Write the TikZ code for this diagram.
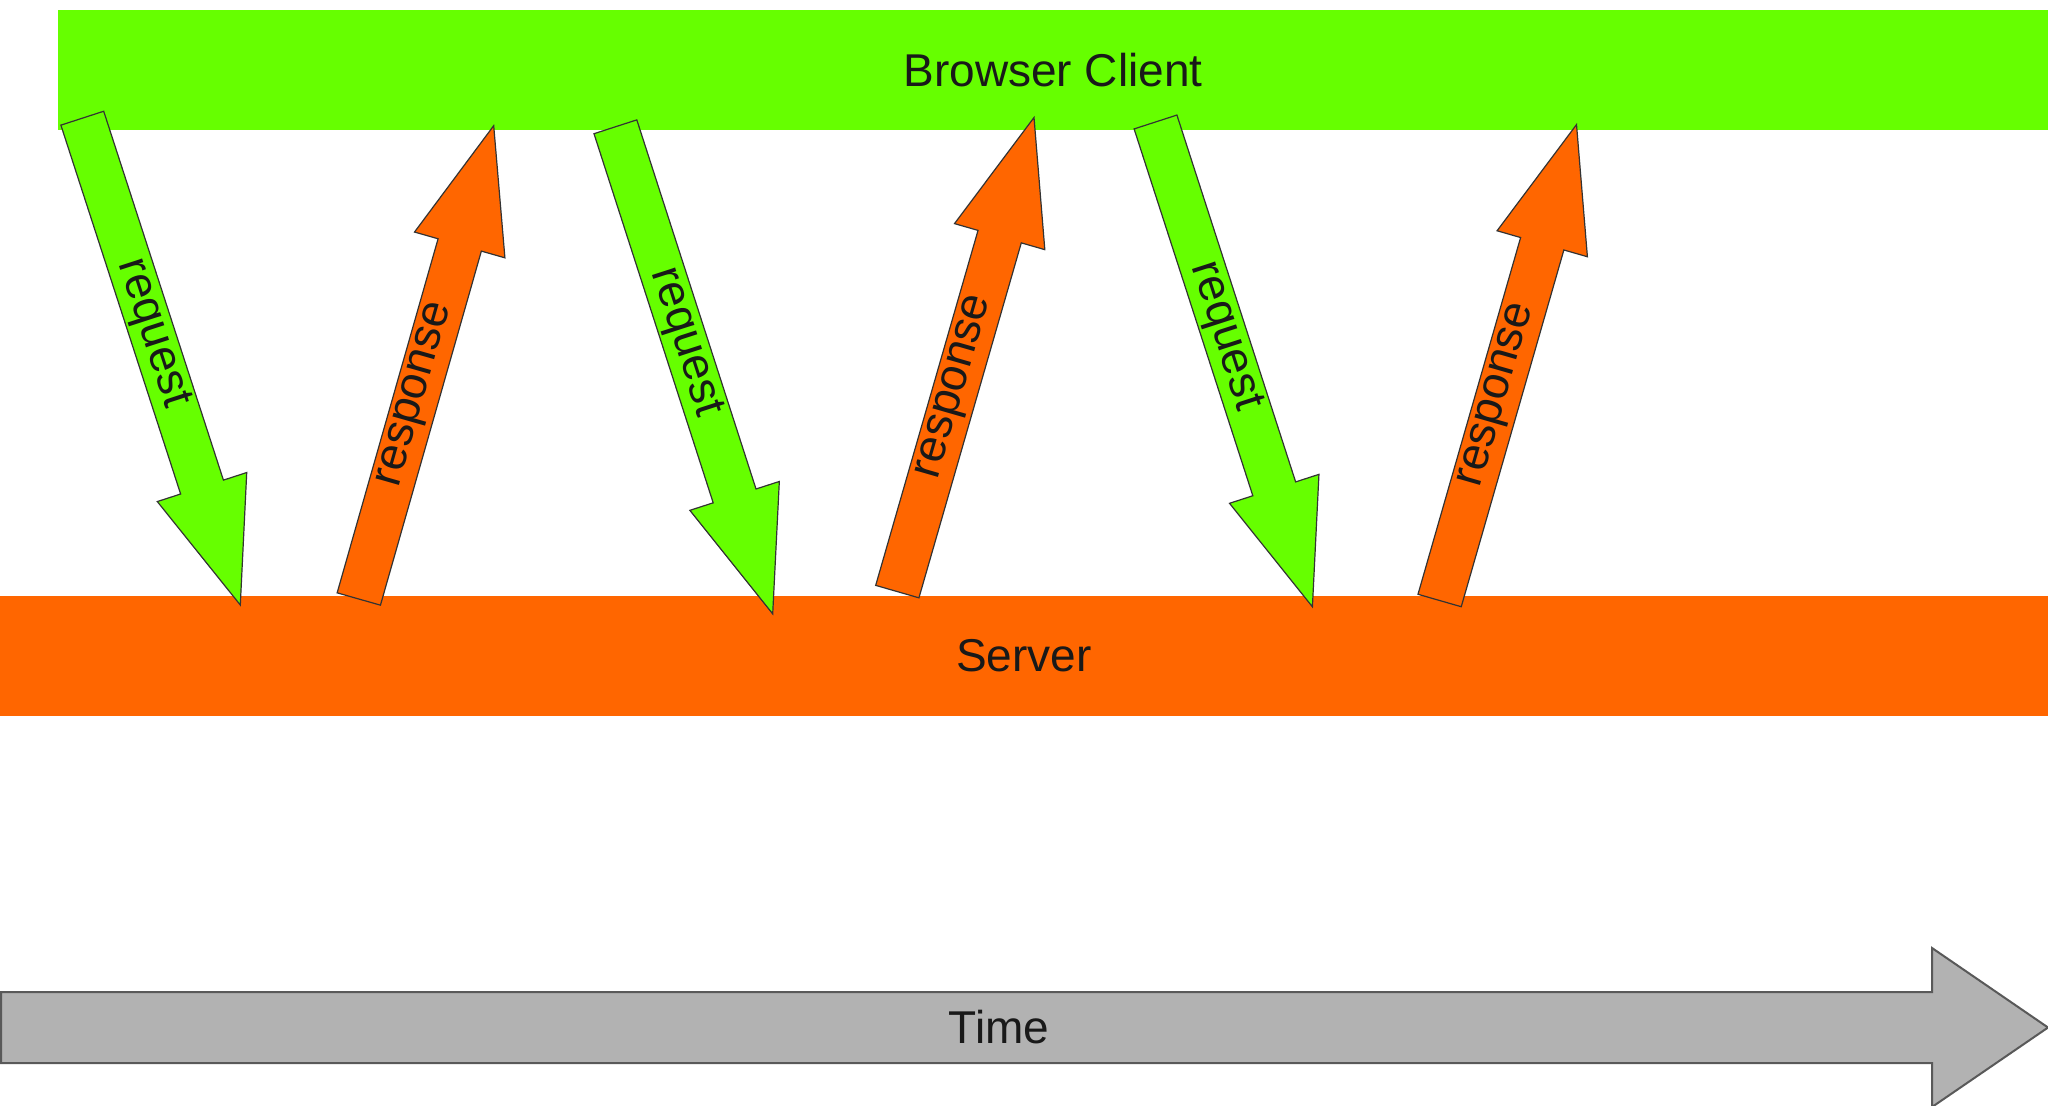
\documentclass[tikz,border=0pt]{standalone}
\usepackage{fontspec}
\setmainfont{Liberation Sans}
\usetikzlibrary{calc}
\definecolor{cgreen}{RGB}{102,255,0}
\definecolor{corange}{RGB}{255,102,0}
\definecolor{cgray}{RGB}{178,178,178}
\tikzset{
  blockarrow/.style={draw=black!80, line width=0.6pt, line join=miter},
  lbl/.style={font=\fontsize{23}{27}\selectfont, text=black!90, inner sep=0pt},
  bar/.style={rectangle, inner sep=0pt, outer sep=0pt, draw=none, anchor=north west,
    font=\fontsize{23}{27}\selectfont, text=black!90},
  timearrow/.style={draw=black!65, line width=1pt, fill=cgray, line join=miter}
}
\newcommand\fatarrow[5]{%
  \coordinate (#1-hb) at ($(#2)!62pt!(#1)$);
  \draw[blockarrow, fill=#3]
    ($(#1)!11.25pt!90:(#2)$) -- ($(#1-hb)!11.25pt!90:(#2)$) --
    ($(#1-hb)!23.5pt!90:(#2)$) -- (#2) --
    ($(#1-hb)!23.5pt!-90:(#2)$) -- ($(#1-hb)!11.25pt!-90:(#2)$) --
    ($(#1)!11.25pt!-90:(#2)$) -- cycle;
  \path (#1) -- (#2) node[pos=#5, sloped, lbl] (#1-lbl) {#4};
}
\begin{document}
\begin{tikzpicture}[x=0.5pt, y=0.5pt]
\useasboundingbox (0,0) rectangle (2048,-1106);
\fill[white] (0,0) rectangle (2048,-1106);
% bars
\node[bar, fill=cgreen, minimum width=995pt, minimum height=60pt] (client) at (58,-10) {Browser Client};
\node[bar, fill=corange, minimum width=1024pt, minimum height=60pt] (server) at (0,-596) {Server};
% arrow end points
\coordinate (r1t) at (82.3,-118.2);  \coordinate (r1h) at (240.3,-605);
\coordinate (s1t) at (358.8,-599);   \coordinate (s1h) at (493.7,-125.7);
\coordinate (r2t) at (615.4,-126.8); \coordinate (r2h) at (772.7,-613.9);
\coordinate (s2t) at (897.3,-591.6); \coordinate (s2h) at (1034,-117.5);
\coordinate (r3t) at (1155.5,-122);  \coordinate (r3h) at (1312.4,-606.8);
\coordinate (s3t) at (1439.6,-600.5);\coordinate (s3h) at (1576.5,-124.6);
\fatarrow{r1t}{r1h}{cgreen}{request}{0.442}
\fatarrow{s1t}{s1h}{corange}{response}{0.431}
\fatarrow{r2t}{r2h}{cgreen}{request}{0.442}
\fatarrow{s2t}{s2h}{corange}{response}{0.431}
\fatarrow{r3t}{r3h}{cgreen}{request}{0.442}
\fatarrow{s3t}{s3h}{corange}{response}{0.431}
% time arrow
\draw[timearrow] (1,-992) -- (1932,-992) -- (1932,-948) -- (2048,-1027.5) -- (1932,-1107) -- (1932,-1063) -- (1,-1063) -- cycle;
\node[lbl] (time) at (999,-1027.5) {Time};
\end{tikzpicture}
\end{document}
